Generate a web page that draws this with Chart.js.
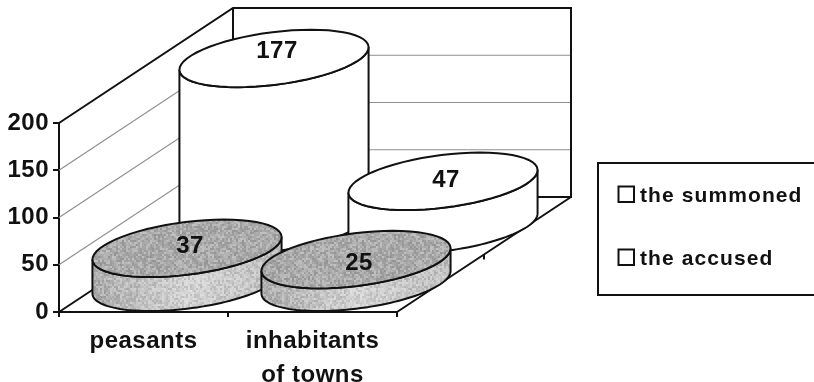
<!DOCTYPE html>
<html>
<head>
<meta charset="utf-8">
<title>the summoned and the accused</title>
<script src="https://cdn.jsdelivr.net/npm/chart.js@4"></script>
<style>
  body { margin: 0; background: #fff; }
  canvas { display: block; filter: blur(0.45px); }
</style>
</head>
<body>
<canvas id="myChart" width="814" height="382"></canvas>
<script>
const categories = ['peasants', ['inhabitants', 'of towns']];
const summoned = [177, 47];
const accused = [37, 25];
const seriesNames = ['the summoned', 'the accused'];
const seriesDepth = [0.75, 0.25];
const gridValues = [50, 100, 150];

// 3d look: how far the back wall is shifted from the front plane
const wallX = 174;
const wallY = -115;
const diskDepth = 0.25;
const diskSkew = 37;
const labelNudge = [[-7, -1], [-2, 4]];
const fontFamily = '"Liberation Sans", Arial, sans-serif';

// speckle for the grey cylinders, scanned print look
function makeSpeckle(ctx) {
  const c = document.createElement('canvas');
  c.width = c.height = 120;
  const p = c.getContext('2d');
  let s = 12345;
  for (let y = 0; y < 120; y += 2) {
    for (let x = 0; x < 120; x += 2) {
      s = (s * 1103515245 + 12345) & 0x7fffffff;
      const v = (s >> 16) & 255;
      p.fillStyle = v > 128 ? 'rgba(255,255,255,' + ((v - 128) / 128 * 0.3) + ')' : 'rgba(0,0,0,' + ((128 - v) / 128 * 0.12) + ')';
      p.fillRect(x, y, 2, 2);
    }
  }
  return ctx.createPattern(c, 'repeat');
}

function ellipsePoint(cx, cy, r, dx, dy, t) {
  return [cx + r * Math.cos(t) + dx * Math.sin(t), cy + dy * Math.sin(t)];
}

function tracePath(ctx, cx, cy, r, dx, dy, from, to, first) {
  for (let i = 0; i <= 60; i++) {
    const pt = ellipsePoint(cx, cy, r, dx, dy, from + (to - from) * i / 60);
    if (i === 0 && first) ctx.moveTo(pt[0], pt[1]);
    else ctx.lineTo(pt[0], pt[1]);
  }
}

function drawCylinder(ctx, el, depth, grey, speckle) {
  const cx = el.x + wallX * depth;
  const baseY = el.base + wallY * depth;
  const topY = el.y + wallY * depth;
  const r = el.width / 2;
  const dx = diskSkew;
  const dy = wallY * diskDepth;
  const t0 = Math.atan2(dx, r);

  ctx.beginPath();
  tracePath(ctx, cx, topY, r, dx, dy, t0 + Math.PI, t0 + 2 * Math.PI, true);
  tracePath(ctx, cx, baseY, r, dx, dy, t0 + 2 * Math.PI, t0 + Math.PI, false);
  ctx.closePath();
  if (grey) {
    const g = ctx.createLinearGradient(cx - r - dx, 0, cx + r + dx, 0);
    g.addColorStop(0, '#9c9c9c');
    g.addColorStop(0.5, '#d6d6d6');
    g.addColorStop(1, '#b8b8b8');
    ctx.fillStyle = g;
  } else {
    ctx.fillStyle = '#fff';
  }
  ctx.fill();
  if (grey) {
    ctx.fillStyle = speckle;
    ctx.fill();
  }
  ctx.strokeStyle = '#111';
  ctx.lineWidth = 2;
  ctx.stroke();

  ctx.beginPath();
  tracePath(ctx, cx, topY, r, dx, dy, 0, 2 * Math.PI, true);
  ctx.closePath();
  ctx.fillStyle = grey ? '#a8a8a8' : '#fff';
  ctx.fill();
  if (grey) {
    ctx.fillStyle = speckle;
    ctx.fill();
  }
  ctx.stroke();
}

const walls3d = {
  id: 'walls3d',
  beforeDraw(chart) {
    chart.ctx.letterSpacing = '0.5px';
  },
  beforeDatasetsDraw(chart) {
    const ctx = chart.ctx;
    const y = chart.scales.y;
    const area = chart.chartArea;
    const x0 = area.left;
    const x1 = area.right;
    const top = y.getPixelForValue(200);
    const zero = y.getPixelForValue(0);

    ctx.save();
    ctx.strokeStyle = '#8f8f8f';
    ctx.lineWidth = 1.2;
    gridValues.forEach(v => {
      const py = y.getPixelForValue(v);
      ctx.beginPath();
      ctx.moveTo(x0, py);
      ctx.lineTo(x0 + wallX, py + wallY);
      ctx.lineTo(x1 + wallX, py + wallY);
      ctx.stroke();
    });

    ctx.strokeStyle = '#111';
    ctx.lineWidth = 2;
    ctx.beginPath();
    ctx.moveTo(x0, top);
    ctx.lineTo(x0 + wallX, top + wallY);
    ctx.lineTo(x1 + wallX, top + wallY);
    ctx.lineTo(x1 + wallX, zero + wallY);
    ctx.lineTo(x0 + wallX, zero + wallY);
    ctx.moveTo(x0 + wallX, top + wallY);
    ctx.lineTo(x0 + wallX, zero + wallY);
    ctx.moveTo(x0, zero);
    ctx.lineTo(x0 + wallX, zero + wallY);
    ctx.moveTo(x1, zero);
    ctx.lineTo(x1 + wallX, zero + wallY);
    // depth tick on the floor edge
    ctx.moveTo(x1 + wallX / 2, zero + wallY / 2);
    ctx.lineTo(x1 + wallX / 2, zero + wallY / 2 + 5);
    ctx.stroke();
    ctx.restore();
  },
  afterDatasetsDraw(chart) {
    const ctx = chart.ctx;
    const speckle = makeSpeckle(ctx);
    ctx.save();
    chart.data.datasets.forEach((ds, i) => {
      chart.getDatasetMeta(i).data.forEach(el => {
        drawCylinder(ctx, el, seriesDepth[i], i === 1, speckle);
      });
    });

    // value labels sit on the cylinder tops
    ctx.fillStyle = '#111';
    ctx.font = 'bold 24px ' + fontFamily;
    ctx.textAlign = 'center';
    ctx.textBaseline = 'middle';
    chart.data.datasets.forEach((ds, i) => {
      chart.getDatasetMeta(i).data.forEach((el, j) => {
        ctx.fillText(ds.data[j], el.x + wallX * seriesDepth[i] + 3, el.y + wallY * seriesDepth[i] + labelNudge[i][j]);
      });
    });

    // legend box
    ctx.strokeStyle = '#111';
    ctx.lineWidth = 2;
    ctx.strokeRect(598, 163, 220, 132);
    ctx.font = 'bold 21px ' + fontFamily;
    ctx.letterSpacing = '1.1px';
    ctx.textAlign = 'left';
    ctx.textBaseline = 'alphabetic';
    seriesNames.forEach((name, i) => {
      const rowY = 202 + i * 63;
      ctx.strokeRect(618.5, rowY - 15.5, 15.5, 15.5);
      ctx.fillStyle = '#111';
      ctx.fillText(name, 640, rowY);
    });
    ctx.restore();
  }
};

const canvas = document.getElementById('myChart');
const chart = new Chart(canvas, {
  type: 'bar',
  data: {
    labels: categories,
    datasets: [
      { label: seriesNames[0], data: summoned, backgroundColor: 'rgba(0,0,0,0)' },
      { label: seriesNames[1], data: accused, backgroundColor: 'rgba(0,0,0,0)' }
    ]
  },
  plugins: [walls3d],
  options: {
    responsive: false,
    animation: false,
    grouped: false,
    categoryPercentage: 1,
    barPercentage: 1.03,
    layout: { padding: { top: 123, right: 417, left: 0, bottom: 0 } },
    plugins: {
      legend: { display: false },
      tooltip: { enabled: false }
    },
    scales: {
      x: {
        afterFit(scale) { scale.height = 70; },
        border: { color: '#111', width: 2 },
        grid: { drawOnChartArea: false, tickLength: 5, color: '#111', lineWidth: 2 },
        ticks: {
          color: '#111',
          maxRotation: 0,
          padding: 7,
          font: { family: fontFamily, size: 24, weight: 'bold', lineHeight: 1.42 }
        }
      },
      y: {
        min: 0,
        max: 200,
        afterFit(scale) { scale.width = 59; },
        border: { color: '#111', width: 2 },
        grid: { drawOnChartArea: false, tickLength: 6, color: '#111', lineWidth: 2 },
        ticks: {
          stepSize: 50,
          color: '#111',
          padding: 4,
          font: { family: fontFamily, size: 24, weight: 'bold' }
        }
      }
    }
  }
});
</script>
</body>
</html>
